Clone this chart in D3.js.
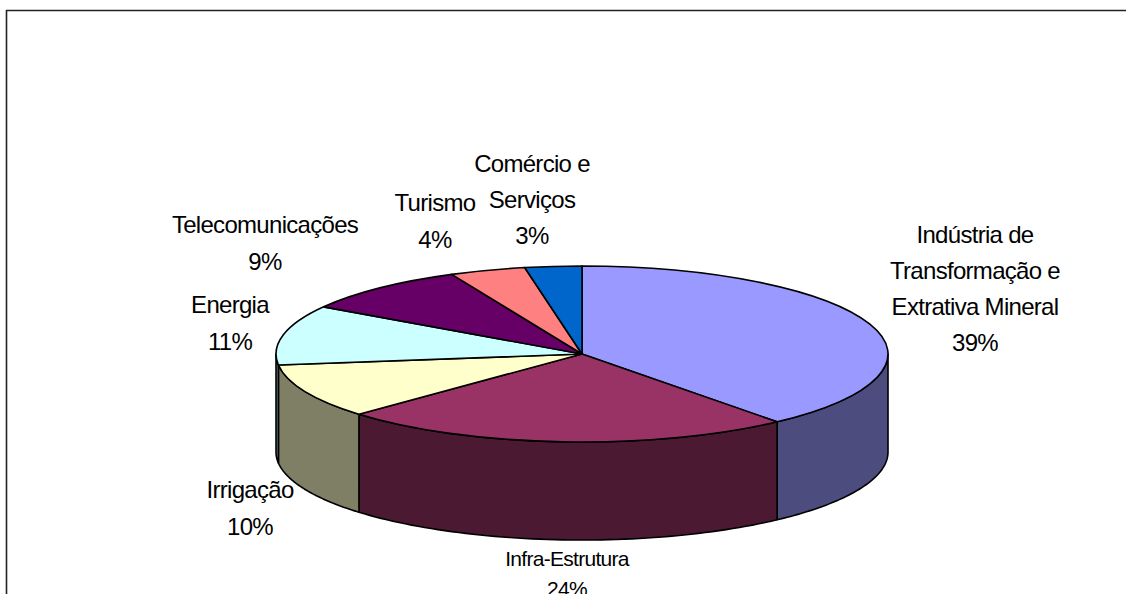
<!DOCTYPE html>
<html><head><meta charset="utf-8">
<script src="https://cdn.jsdelivr.net/npm/d3@7"></script>
<style>html,body{margin:0;padding:0;background:#fff;overflow:hidden}</style>
</head><body>
<svg id="c" width="1126" height="594"></svg>
<script>
// ---- data ----
const categories = ["Indústria de\nTransformação e\nExtrativa Mineral", "Infra-Estrutura", "Irrigação", "Energia", "Telecomunicações", "Turismo", "Comércio e\nServiços"];
const values = [39, 24, 10, 11, 9, 4, 3];
const percentLabels = ["39%", "24%", "10%", "11%", "9%", "4%", "3%"];

// ---- styles / layout ----
const topColors  = ["#9999FF", "#993366", "#FFFFCC", "#CCFFFF", "#660066", "#FF8080", "#0066CC"];
const sideColors = ["#4C4C7F", "#4C1933", "#7F7F66", "#667F7F", "#330033", "#7F4040", "#003366"];
const labelLayout = [
  {x: 975, y: 243, ls: 36, fs: 24},
  {x: 567, y: 566, ls: 30, fs: 21},
  {x: 250, y: 498, ls: 37, fs: 24},
  {x: 230, y: 313, ls: 37, fs: 24},
  {x: 265, y: 233, ls: 37, fs: 24},
  {x: 435, y: 211, ls: 37, fs: 24},
  {x: 532, y: 172, ls: 36, fs: 24}
];
const cx = 582, cy = 354, rx = 306, ry = 88, depth = 98;

const svg = d3.select("#c");
// frame
svg.append("path").attr("d", "M6.5,594 V10.5 H1126").attr("fill", "none")
  .attr("stroke", "#222").attr("stroke-width", 1.6);

const pie = d3.pie().sort(null).value(d => d)(values);

const pt = (a, dy=0) => [cx + rx * Math.sin(a), cy - ry * Math.cos(a) + dy];
const line = d3.line();

// side walls (front half: angle PI/2 .. 3PI/2)
const walls = svg.append("g");
pie.forEach((p, i) => {
  const a1 = Math.max(p.startAngle, Math.PI / 2), a2 = Math.min(p.endAngle, 3 * Math.PI / 2);
  if (a2 <= a1) return;
  const n = 60;
  const topPts = d3.range(n + 1).map(k => pt(a1 + (a2 - a1) * k / n));
  const botPts = topPts.map(q => [q[0], q[1] + depth]).reverse();
  walls.append("path").attr("d", line(topPts.concat(botPts)) + "Z")
    .attr("fill", sideColors[i]).attr("stroke", "#000").attr("stroke-width", 1.6)
    .attr("stroke-linejoin", "round");
});

// top faces
const arc = d3.arc().innerRadius(0).outerRadius(rx);
const topG = svg.append("g").attr("transform", `translate(${cx},${cy}) scale(1,${ry / rx})`);
topG.selectAll("path").data(pie).join("path")
  .attr("d", arc)
  .attr("fill", (d, i) => topColors[i])
  .attr("stroke", "#000").attr("stroke-width", 1.6)
  .attr("stroke-linejoin", "round")
  .attr("vector-effect", "non-scaling-stroke");

// labels
const lbl = svg.append("g").attr("font-family", "'Liberation Sans', Arial, sans-serif")
  .attr("fill", "#000").attr("text-anchor", "middle");
categories.forEach((c, i) => {
  const L = labelLayout[i];
  const lines = c.split("\n").concat([percentLabels[i]]);
  const t = lbl.append("text").attr("font-size", L.fs).attr("letter-spacing", "-0.7");
  lines.forEach((s, k) => t.append("tspan").attr("x", L.x).attr("y", L.y + k * L.ls).text(s));
});
</script>
</body></html>
